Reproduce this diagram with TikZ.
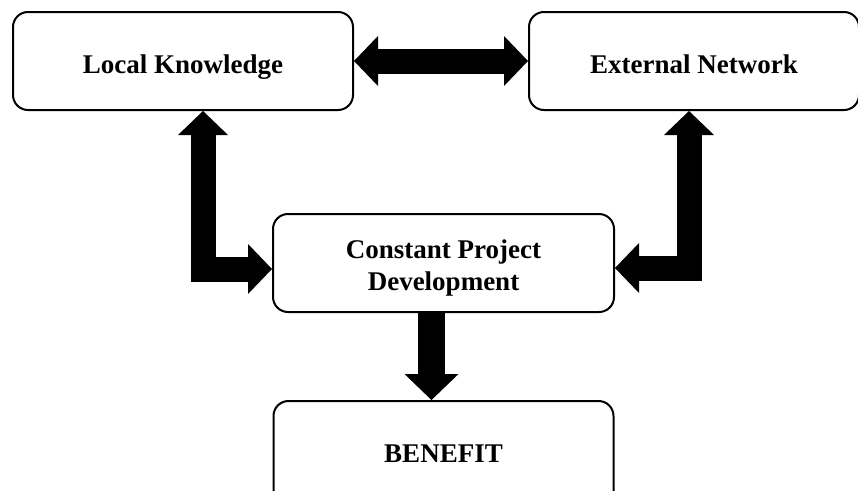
\documentclass[tikz,border=0pt]{standalone}
\usepackage{fontspec}
\setmainfont{Liberation Serif}
\usetikzlibrary{arrows.meta}
\tikzset{fat/.style = {line width = 25pt, line join = miter, {Triangle[width = 50pt, length = 24pt, line width = 0pt]}-{Triangle[width = 50pt, length = 24pt, line width = 0pt]}}}
\tikzset{fatdown/.style = {line width = 27pt, -{Triangle[width = 54pt, length = 26pt, line width = 0pt]}}}
\tikzset{box/.style = {draw, line width = 2pt, rounded corners = 15pt, minimum height = 98pt, align = center, font = \bfseries\fontsize{27}{32}\selectfont}}
\tikzset{oneline/.style = {text height = 24pt, text depth = 0pt}}
\usetikzlibrary{positioning}

\begin{document}
\begin{tikzpicture}[x = 1pt, y = -1pt]
	\clip (0, 0) rectangle (858, 490);

	%% Top row
	\node[box, oneline, minimum width = 340pt] (local) at (183, 61) {Local Knowledge};
	\node[box, oneline, minimum width = 330pt, right = 174pt of local] (external) {External Network};

	%% Middle
	\node[box, minimum width = 341pt, text height = 54pt, text depth = 0pt] (project) at (443.5, 263) {Constant Project\\Development};

	%% Bottom
	\node[box, minimum width = 340pt, minimum height = 110pt, text height = 12pt, text depth = 0pt, below = 87pt of project] (benefit) {BENEFIT};

	%% Arrows
	\draw[fat] (local.east) -- (external.west);
	\draw[fat] ([xshift = 20pt]local.south) |- ([yshift = -6pt]project.west);
	\draw[fat] ([xshift = -5pt]external.south) |- ([yshift = -5pt]project.east);
	\draw[fatdown] ([xshift = -12pt]project.south) -- ([xshift = -12pt]benefit.north);

\end{tikzpicture}
\end{document}
